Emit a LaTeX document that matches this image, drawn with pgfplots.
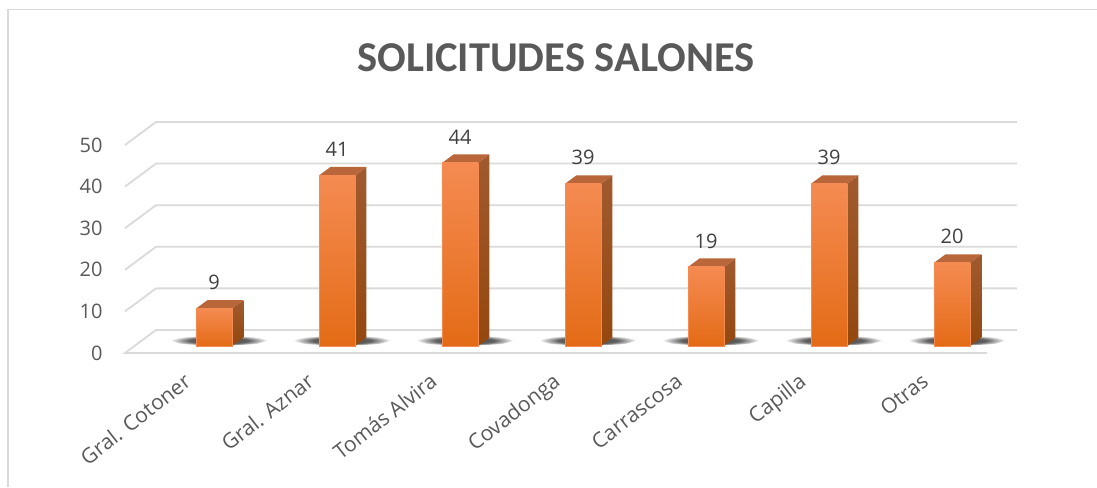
\documentclass[border=0pt]{standalone}
\usepackage{pgfplots}
\pgfplotsset{compat=1.18}
\usepackage{fontspec}
\setmainfont{Open Sans}
\newfontfamily\titlefont{Carlito}
\definecolor{framegray}{HTML}{D9D9D9}
\definecolor{gridgray}{HTML}{DADADA}
\definecolor{labelgray}{HTML}{595959}
\definecolor{valgray}{HTML}{404040}
\definecolor{frontA}{HTML}{F58B52}
\definecolor{frontB}{HTML}{F97C24}
\definecolor{frontC}{HTML}{E36B16}
\definecolor{sideA}{HTML}{A05A2E}
\definecolor{sideC}{HTML}{94480F}
\definecolor{topface}{HTML}{B8663A}
\pgfdeclareradialshading{floorshadow}{\pgfpoint{0bp}{0bp}}{
  color(0bp)=(black!75); color(15bp)=(black!62); color(25bp)=(white); color(50bp)=(white)}

% one 3D column: #1 category position, #2 value
\newcommand{\threedbar}[2]{
  % shadow on the floor
  \addplot[draw=none, shading=floorshadow] coordinates {
    ({#1+0.04-0.40},1.32) ({#1+0.04-0.30},2.2) ({#1+0.04},2.64) ({#1+0.04+0.30},2.2)
    ({#1+0.04+0.40},1.32) ({#1+0.04+0.30},0.44) ({#1+0.04},0) ({#1+0.04-0.30},0.44)};
  % side face
  \addplot[draw=none, top color=sideA, bottom color=sideC] coordinates {
    ({#1+0.1463},0) ({#1+0.2398},2.04) ({#1+0.2398},{#2+2.04}) ({#1+0.1463},#2)};
  % top face
  \addplot[draw=none, fill=topface] coordinates {
    ({#1-0.1463},#2) ({#1-0.0528},{#2+2.04}) ({#1+0.2398},{#2+2.04}) ({#1+0.1463},#2)};
  % front face
  \addplot[ybar, bar width=35.6pt, bar shift=0pt, draw=frontA, line width=0.3pt,
    top color=frontA, middle color=frontB, bottom color=frontC,
    nodes near coords, nodes near coords style={font=\fontsize{20}{24}\selectfont,
      text=valgray, anchor=center, yshift=26pt}] coordinates {(#1,#2)};
}

\begin{document}
\begin{tikzpicture}
\path[use as bounding box] (0pt,0pt) rectangle (1097pt,487pt);
\draw[framegray, line width=2.4pt] (8pt,0pt) -- (8pt,478pt);
\draw[framegray, line width=1pt] (7pt,477.5pt) -- (1097pt,477.5pt);
\begin{axis}[
  at={(125pt,134pt)}, anchor=south west,
  scale only axis, width=892pt, height=231pt,
  xmin=-0.7236, xmax=6.5285,
  ymin=-1.68, ymax=53.85,
  clip=false,
  axis line style={draw=none},
  major tick length=0pt,
  xtick={0,1,2,3,4,5,6},
  xticklabels={Gral. Cotoner,Gral. Aznar,Tomás Alvira,Covadonga,Carrascosa,Capilla,Otras},
  ytick={0,10,20,30,40,50},
  /pgf/number format/assume math mode=true,
  tick label style={font=\fontsize{20}{24}\selectfont, text=labelgray},
  y tick label style={yshift=-7pt, xshift=-19pt},
  x tick label style={font=\fontsize{21}{25}\selectfont, rotate=38, anchor=north east, xshift=-33pt, yshift=8pt},
  title={\titlefont\bfseries\fontsize{42.5}{50}\selectfont SOLICITUDES SALONES},
  title style={at={(0.483,1)}, anchor=center, yshift=58pt, text=labelgray},
]
% wall and floor grid: front end, back end, right end of each level
\addplot[gridgray, line width=1.8pt, unbounded coords=jump] table {
x y
6.2846 -1.68
-0.7236 -1.68
-0.4715 3.85
6.5285 3.85
nan nan
-0.7236 8.32
-0.4715 13.85
6.5285 13.85
nan nan
-0.7236 18.32
-0.4715 23.85
6.5285 23.85
nan nan
-0.7236 28.32
-0.4715 33.85
6.5285 33.85
nan nan
-0.7236 38.32
-0.4715 43.85
6.5285 43.85
nan nan
-0.7236 48.32
-0.4715 53.85
6.5285 53.85
};
\threedbar{0}{9}
\threedbar{1}{41}
\threedbar{2}{44}
\threedbar{3}{39}
\threedbar{4}{19}
\threedbar{5}{39}
\threedbar{6}{20}
\end{axis}
\end{tikzpicture}
\end{document}
